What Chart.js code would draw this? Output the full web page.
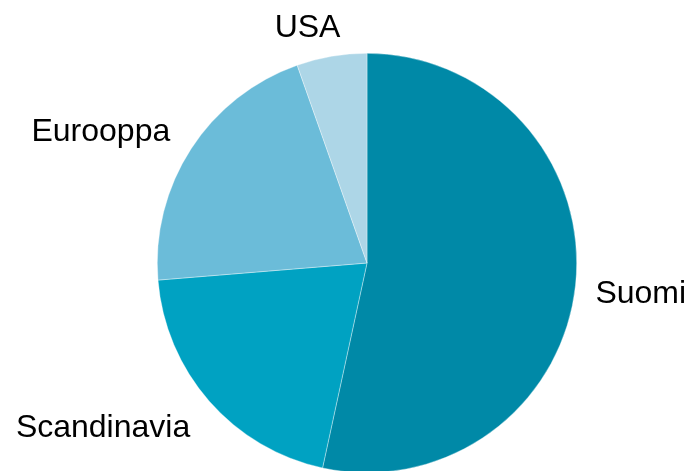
<!DOCTYPE html>
<html>
<head>
<meta charset="utf-8">
<script src="https://cdn.jsdelivr.net/npm/chart.js@4/dist/chart.umd.min.js"></script>
<style>
  html, body { margin: 0; padding: 0; background: #fff; overflow: hidden; }
  #wrap { width: 689px; height: 475px; position: relative; }
</style>
</head>
<body>
<div id="wrap"><canvas id="c"></canvas></div>
<script>
const categories = ["Suomi", "Scandinavia", "Eurooppa", "USA"];
const shares = [53.4, 20.3, 20.9, 5.4];
const sliceColors = ["#0089A7", "#00A2C2", "#6BBCD9", "#ADD6E7"];

const FONT_SIZE = 32;
const FONT = FONT_SIZE + "px 'Liberation Sans', Arial, sans-serif";

const outsideLabels = {
  id: "outsideLabels",
  afterDatasetsDraw(chart) {
    const ctx = chart.ctx;
    const meta = chart.getDatasetMeta(0);
    ctx.save();
    ctx.font = FONT;
    ctx.fillStyle = "#000";
    ctx.textAlign = "left";
    ctx.textBaseline = "alphabetic";
    const capH = FONT_SIZE * 0.716;
    meta.data.forEach((arc, i) => {
      const p = arc.getProps(["x", "y", "startAngle", "endAngle", "outerRadius"], true);
      const mid = (p.startAngle + p.endAngle) / 2;
      const dx = Math.cos(mid), dy = Math.sin(mid);
      const k = p.outerRadius + 20;
      const ax = p.x + dx * k - (dx < 0 ? 4 : 0), ay = p.y + dy * k + (dy < 0 && dx < -0.5 ? 3 : 0);
      const text = categories[i];
      const w = ctx.measureText(text).width;
      const fx = Math.min(1, Math.max(0, (1 - dx * 3) / 2));
      const fy = Math.min(1, Math.max(0, (1 - dy * 3) / 2));
      const left = ax - w * fx;
      const capTop = ay - capH * fy;
      ctx.fillText(text, left, capTop + capH);
    });
    ctx.restore();
  }
};

new Chart(document.getElementById("c"), {
  type: "pie",
  data: {
    labels: categories,
    datasets: [{
      data: shares,
      backgroundColor: sliceColors,
      borderWidth: 0.6,
      borderColor: "rgba(255,255,255,0.6)"
    }]
  },
  options: {
    responsive: true,
    maintainAspectRatio: false,
    animation: false,
    layout: { padding: { top: 53, bottom: 2, left: 45, right: 0 } },
    plugins: {
      legend: { display: false },
      tooltip: { enabled: false }
    }
  },
  plugins: [outsideLabels]
});
</script>
</body>
</html>
